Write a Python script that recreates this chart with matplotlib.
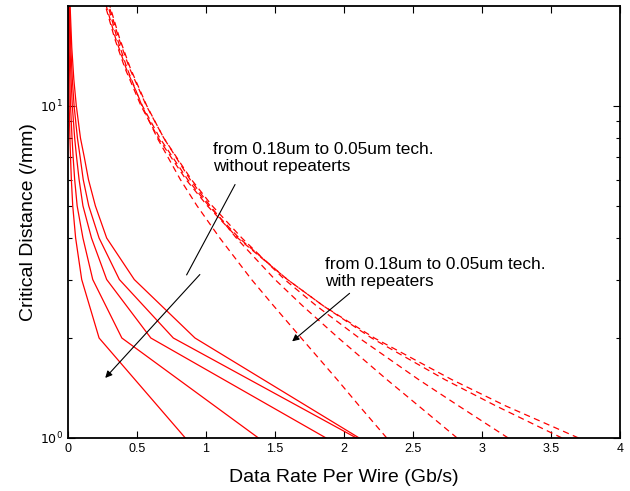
import numpy as np
import matplotlib
matplotlib.use("Agg")
import matplotlib.pyplot as plt
from matplotlib.ticker import FixedLocator, NullFormatter

plt.rcParams['font.family'] = ['Liberation Sans', 'DejaVu Sans']

# critical distance (mm) sampled for the solid curves (no repeaters)
dist_solid = [1, 2, 3, 4, 5, 6, 7, 8, 10, 12, 15, 20]
rate_solid = [
    [0.85, 0.225, 0.099, 0.055, 0.034, 0.024, 0.018, 0.0135, 0.0085, 0.006, 0.004, 0.0022],
    [1.38, 0.39, 0.179, 0.108, 0.066, 0.048, 0.037, 0.029, 0.018, 0.013, 0.008, 0.0045],
    [1.87, 0.60, 0.28, 0.17, 0.108, 0.08, 0.062, 0.048, 0.031, 0.022, 0.014, 0.008],
    [2.09, 0.763, 0.372, 0.225, 0.15, 0.11, 0.088, 0.068, 0.044, 0.031, 0.02, 0.011],
    [2.11, 0.92, 0.48, 0.28, 0.198, 0.148, 0.118, 0.09, 0.06, 0.042, 0.027, 0.015],
]

# critical distance (mm) sampled for the dashed curves (with repeaters)
dist_dash = [1, 1.25, 1.5, 2, 2.5, 3, 4, 5, 6, 8, 10, 13, 16, 20]
rate_dash = [
    [2.31, 2.11, 1.95, 1.69, 1.49, 1.33, 1.10, 0.935, 0.814, 0.647, 0.536, 0.427, 0.355, 0.290],
    [2.82, 2.54, 2.31, 1.96, 1.70, 1.50, 1.22, 1.03, 0.885, 0.694, 0.571, 0.451, 0.373, 0.303],
    [3.19, 2.83, 2.54, 2.11, 1.80, 1.57, 1.26, 1.045, 0.894, 0.694, 0.568, 0.445, 0.367, 0.297],
    [3.58, 3.10, 2.73, 2.20, 1.85, 1.59, 1.24, 1.02, 0.867, 0.665, 0.539, 0.420, 0.344, 0.277],
    [3.70, 3.17, 2.78, 2.22, 1.85, 1.59, 1.23, 1.01, 0.855, 0.654, 0.529, 0.412, 0.337, 0.271],
]

fig = plt.figure(figsize=(6.3, 4.91), dpi=100)
ax = fig.add_axes([0.108, 0.108, 0.876, 0.880])

for r in rate_solid:
    ax.plot(r, dist_solid, color='red', lw=0.9)
for r in rate_dash:
    ax.plot(r, dist_dash, color='red', lw=0.9, linestyle=(0, (5, 3.5)))

ax.set_yscale('log')
ax.set_xlim(0, 4)
ax.set_ylim(1, 20)
ax.set_xticks([0, 0.5, 1, 1.5, 2, 2.5, 3, 3.5, 4])
ax.set_xticklabels(['0', '0.5', '1', '1.5', '2', '2.5', '3', '3.5', '4'])
ax.yaxis.set_major_locator(FixedLocator([1, 10]))
ax.set_yticklabels([r'$10^0$', r'$10^1$'])
ax.yaxis.set_minor_locator(FixedLocator([2, 3, 4, 5, 6, 7, 8, 9]))
ax.yaxis.set_minor_formatter(NullFormatter())
ax.tick_params(which='both', direction='in', top=True, right=True, labelsize=9, width=0.8)
ax.tick_params(which='major', length=5)
ax.tick_params(which='minor', length=3)
for s in ax.spines.values():
    s.set_linewidth(1.3)

ax.set_xlabel('Data Rate Per Wire (Gb/s)', fontsize=14, labelpad=10)
ax.set_ylabel('Critical Distance (/mm)', fontsize=14, labelpad=2)

ax.text(1.05, 6.95, 'from 0.18um to 0.05um tech.\nwithout repeaterts', fontsize=12.4,
        ha='left', va='center', linespacing=1.15)
ax.plot([0.86, 1.21], [3.10, 5.79], color='k', lw=0.8)
ax.annotate('', xy=(0.256, 1.495), xytext=(0.969, 3.15),
            arrowprops=dict(arrowstyle='-|>', color='k', lw=0.8, mutation_scale=10))

ax.text(1.86, 3.14, 'from 0.18um to 0.05um tech.\nwith repeaters', fontsize=12.4,
        ha='left', va='center', linespacing=1.15)
ax.annotate('', xy=(1.609, 1.93), xytext=(2.056, 2.76),
            arrowprops=dict(arrowstyle='-|>', color='k', lw=0.8, mutation_scale=10))

fig.savefig('out.png', dpi=100)
